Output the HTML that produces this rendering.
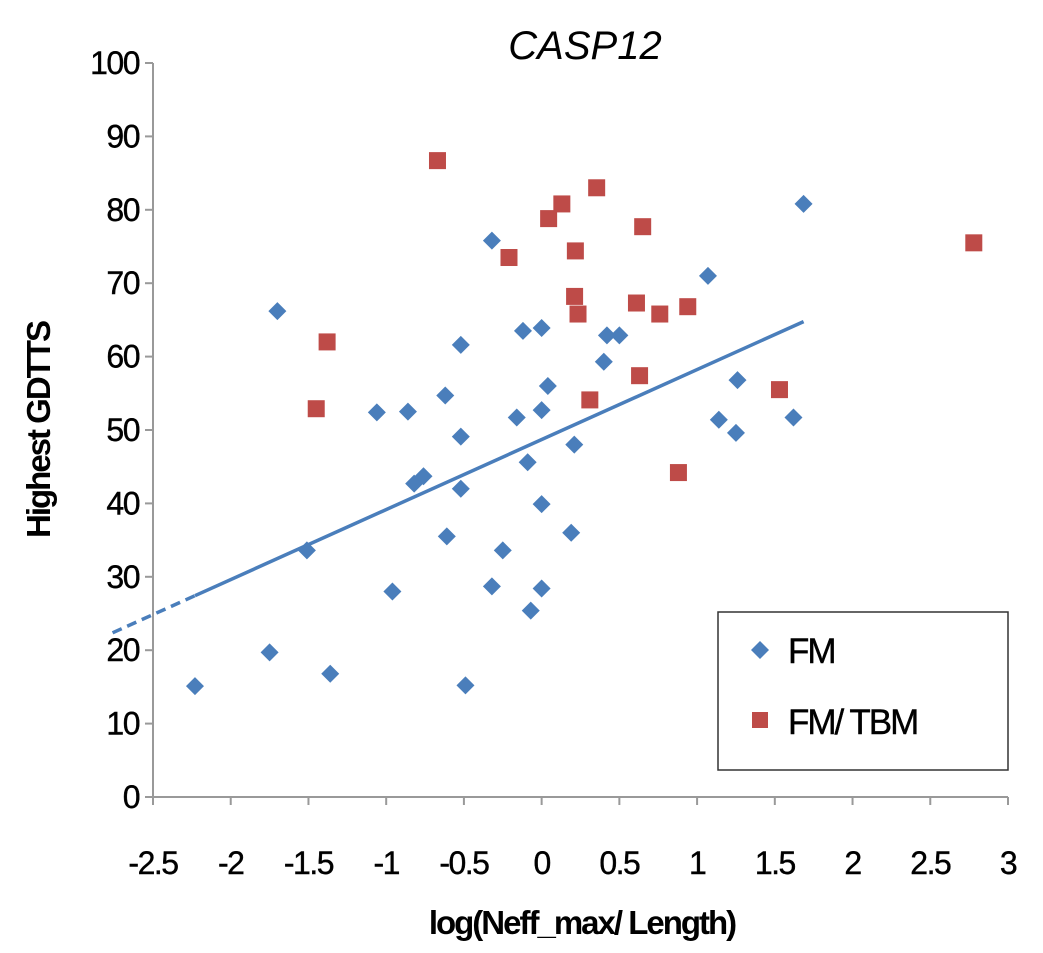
<!DOCTYPE html>
<html><head><meta charset="utf-8"><style>
html,body{margin:0;padding:0;background:#fff;}
svg{display:block;font-family:"Liberation Sans",Arial,sans-serif;}
</style></head><body>
<svg id="chart" width="1043" height="953" viewBox="0 0 1043 953" xmlns="http://www.w3.org/2000/svg">
<text x="585" y="59" font-size="40" font-style="italic" text-anchor="middle">CASP12</text>
<text transform="translate(50,430) rotate(-90)" font-size="33" font-weight="bold" text-anchor="middle" letter-spacing="-2">Highest GDTTS</text>
<text x="582" y="934" font-size="33" font-weight="bold" text-anchor="middle" letter-spacing="-2">log(Neff_max/ Length)</text>
<g id="axes"></g>
<g id="marks"></g>
<g>
<rect x="718" y="612" width="290" height="158" fill="#fff" stroke="#333" stroke-width="1.5"/>
<path d="M760 641 L769 650 L760 659 L751 650 Z" fill="#4a7ebb"/>
<text x="788" y="663" font-size="35" letter-spacing="-2" stroke="#000" stroke-width="0.4">FM</text>
<rect x="752" y="712" width="16" height="16" fill="#be4b48"/>
<text x="788" y="734" font-size="35" letter-spacing="-2" stroke="#000" stroke-width="0.4">FM/ TBM</text>
</g>
</svg>
<script>
const xTicks=[-2.5,-2,-1.5,-1,-0.5,0,0.5,1,1.5,2,2.5,3];
const xTickLabels=["-2.5","-2","-1.5","-1","-0.5","0","0.5","1","1.5","2","2.5","3"];
const yTicks=[0,10,20,30,40,50,60,70,80,90,100];
const fmX=[-2.23,-1.75,-1.70,-1.51,-1.36,-1.06,-0.96,-0.86,-0.82,-0.76,-0.62,-0.52,-0.52,-0.52,-0.61,-0.49,-0.32,-0.32,-0.25,-0.16,-0.12,-0.09,-0.07,0.0,0.0,0.0,0.0,0.04,0.19,0.21,0.40,0.42,0.50,1.07,1.14,1.25,1.26,1.62,1.685];
const fmY=[15.1,19.7,66.2,33.6,16.8,52.4,28.0,52.5,42.7,43.7,54.7,61.6,49.1,42.0,35.5,15.2,75.8,28.7,33.6,51.7,63.5,45.6,25.4,63.9,52.7,39.9,28.4,56.0,36.0,48.0,59.3,62.9,62.9,71.0,51.4,49.6,56.8,51.7,80.8];
const tbmX=[-0.67,0.13,0.045,-0.21,-1.38,-1.45,0.354,0.65,0.217,2.78,0.212,0.234,0.61,0.76,0.94,0.63,0.31,1.53,0.88];
const tbmY=[86.7,80.8,78.8,73.5,62.0,52.9,83.0,77.7,74.4,75.5,68.2,65.8,67.3,65.8,66.8,57.4,54.1,55.5,44.2];

const NS="http://www.w3.org/2000/svg";
const X0=153,X1=1008,Y0=797,Y1=63;
function sx(v){return X0+(v+2.5)/5.5*(X1-X0);}
function sy(v){return Y0-v/100*(Y0-Y1);}
function mk(t,a,parent){const e=document.createElementNS(NS,t);for(const k in a)e.setAttribute(k,a[k]);parent.appendChild(e);return e;}
const axes=document.getElementById('axes'),marks=document.getElementById('marks');

const yAxis=mk('line',{x1:X0,y1:Y1,x2:X0,y2:Y0,stroke:'#999','stroke-width':2},axes);


const xAxis=mk('line',{x1:X0,y1:Y0,x2:X1,y2:Y0,stroke:'#999','stroke-width':2},axes);


yTicks.forEach(v=>{
  const t=mk('line',{x1:X0-8,y1:sy(v),x2:X0,y2:sy(v),stroke:'#999','stroke-width':2},axes);
  
  
  const l=mk('text',{x:X0-14,y:sy(v)+11,'font-size':32,'text-anchor':'end','letter-spacing':'-1.5',stroke:'#000','stroke-width':0.4},axes);
  l.textContent=String(v);
  
  
});
xTicks.forEach((v,i)=>{
  const t=mk('line',{x1:sx(v),y1:Y0,x2:sx(v),y2:Y0+8,stroke:'#999','stroke-width':2},axes);
  
  
  const l=mk('text',{x:sx(v),y:Y0+77,'font-size':32,'text-anchor':'middle','letter-spacing':'-1.5',stroke:'#000','stroke-width':0.4},axes);
  l.textContent=xTickLabels[i];
  
  
});

const n=fmX.length;let mx=0,my=0;fmX.forEach((v,i)=>{mx+=v;my+=fmY[i];});mx/=n;my/=n;
let sxy=0,sxx=0;fmX.forEach((v,i)=>{sxy+=(v-mx)*(fmY[i]-my);sxx+=(v-mx)*(v-mx);});
const slope=sxy/sxx,icpt=my-slope*mx;
const xmin=Math.min(...fmX),xmax=Math.max(...fmX);
const fwd=mk('line',{x1:sx(xmin),y1:sy(icpt+slope*xmin),x2:sx(xmax),y2:sy(icpt+slope*xmax),stroke:'#4a7ebb','stroke-width':3.5},marks);


const bx=-2.76;
const back=mk('line',{x1:sx(bx),y1:sy(icpt+slope*bx),x2:sx(xmin),y2:sy(icpt+slope*xmin),stroke:'#4a7ebb','stroke-width':3.5,'stroke-dasharray':'10,6'},marks);



fmX.forEach((v,i)=>{
  const x=sx(v),y=sy(fmY[i]);
  const p=mk('path',{d:`M${x} ${y-9} L${x+9} ${y} L${x} ${y+9} L${x-9} ${y} Z`,fill:'#4a7ebb'},marks);
  
  
});
tbmX.forEach((v,i)=>{
  const x=sx(v),y=sy(tbmY[i]);
  const r=mk('rect',{x:x-8.5,y:y-8.5,width:17,height:17,fill:'#be4b48'},marks);
  
  
});
</script>
</body></html>
